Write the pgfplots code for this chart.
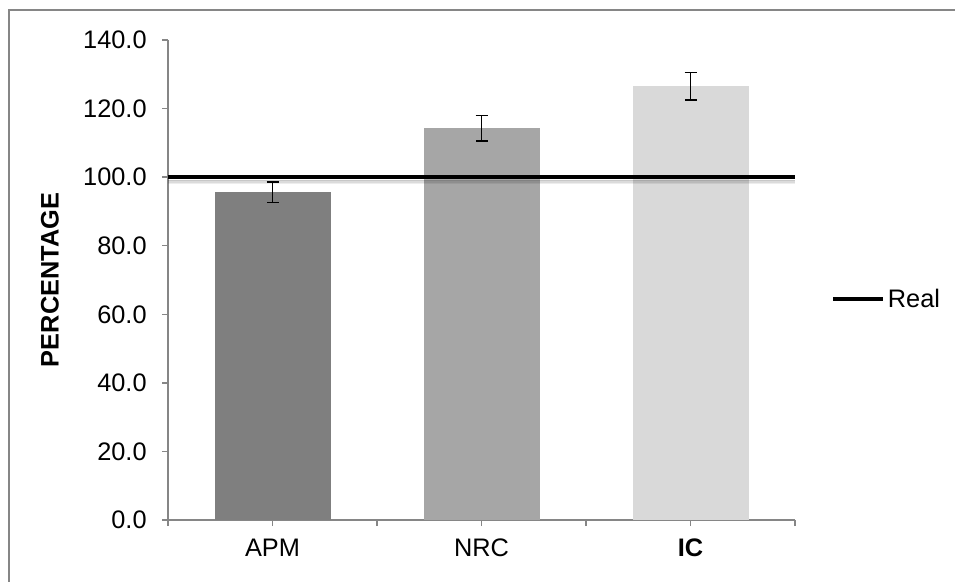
\documentclass[border=0pt]{standalone}
\usepackage{pgfplots}
\pgfplotsset{compat=1.18}
\usepackage{fontspec}
\setmainfont{Liberation Sans}
\definecolor{cA}{HTML}{7F7F7F}
\definecolor{cB}{HTML}{A6A6A6}
\definecolor{cC}{HTML}{D9D9D9}
\definecolor{axgray}{HTML}{868686}
\begin{document}
\begin{tikzpicture}
\useasboundingbox (0pt,0pt) rectangle (716.25pt,435.75pt);
\draw[color=axgray, line width=1.2pt] (6.75pt,-20pt) -- (6.75pt,428.25pt) -- (740pt,428.25pt);
\begin{axis}[
  at={(126pt,45.75pt)}, anchor=south west,
  scale only axis, width=470.25pt, height=360pt,
  xmin=0, xmax=3, ymin=0, ymax=140,
  axis x line*=bottom, axis y line*=left,
  axis line style={axgray, line width=1.1pt, -},
  tick align=outside,
  ytick={0,20,...,140},
  major tick style={axgray, line width=1.1pt},
  minor tick style={axgray, line width=1.1pt},
  y tick label style={/pgf/number format/.cd, fixed, fixed zerofill, precision=1, /tikz/.cd, font=\fontsize{19}{23}\selectfont, xshift=-8pt},
  /pgf/number format/assume math mode=true,
  xtick={0.5,1.5,2.5},
  xticklabels={APM,NRC,\textbf{IC}},
  x tick label style={font=\fontsize{19}{23}\selectfont, yshift=-6pt},
  minor xtick={0,1,2,3},
  major tick length=4.5pt,
  minor tick length=4.5pt,
  ylabel={\textbf{PERCENTAGE}},
  every axis y label/.style={at={([xshift=-88.5pt]axis description cs:0,0.5)}, rotate=90, anchor=center, font=\fontsize{19}{23}\selectfont},
  legend style={at={(1.057,0.46)}, anchor=west, draw=none, fill=none, inner sep=0pt, font=\fontsize{19}{23}\selectfont, legend cell align=left},
  legend image code/.code={\draw[#1] (0pt,0pt) -- (37.5pt,0pt);},
  clip=false,
]
\addplot[ybar, bar width=0.555, bar shift=0pt, fill=cA, draw=none, forget plot,
  error bars/.cd, y dir=both, y explicit,
  error bar style={black, line width=1.1pt},
  error mark options={black, line width=1.1pt, mark size=4.5pt, rotate=90}]
  coordinates {(0.5,95.6) +- (0,3.0)};
\addplot[ybar, bar width=0.555, bar shift=0pt, fill=cB, draw=none, forget plot,
  error bars/.cd, y dir=both, y explicit,
  error bar style={black, line width=1.1pt},
  error mark options={black, line width=1.1pt, mark size=4.5pt, rotate=90}]
  coordinates {(1.5,114.3) +- (0,3.7)};
\addplot[ybar, bar width=0.555, bar shift=0pt, fill=cC, draw=none, forget plot,
  error bars/.cd, y dir=both, y explicit,
  error bar style={black, line width=1.1pt},
  error mark options={black, line width=1.1pt, mark size=4.5pt, rotate=90}]
  coordinates {(2.5,126.5) +- (0,4.0)};
% shadow of the reference line
\addplot[black, opacity=0.22, line width=1.2pt, yshift=-2.6pt, forget plot] coordinates {(0,100) (3,100)};
\addplot[black, opacity=0.14, line width=1.2pt, yshift=-3.7pt, forget plot] coordinates {(0,100) (3,100)};
\addplot[black, opacity=0.07, line width=1.2pt, yshift=-4.8pt, forget plot] coordinates {(0,100) (3,100)};
\addplot[black, line width=3.2pt] coordinates {(0,100) (3,100)};
\addlegendentry{Real}
\end{axis}
\end{tikzpicture}
\end{document}
